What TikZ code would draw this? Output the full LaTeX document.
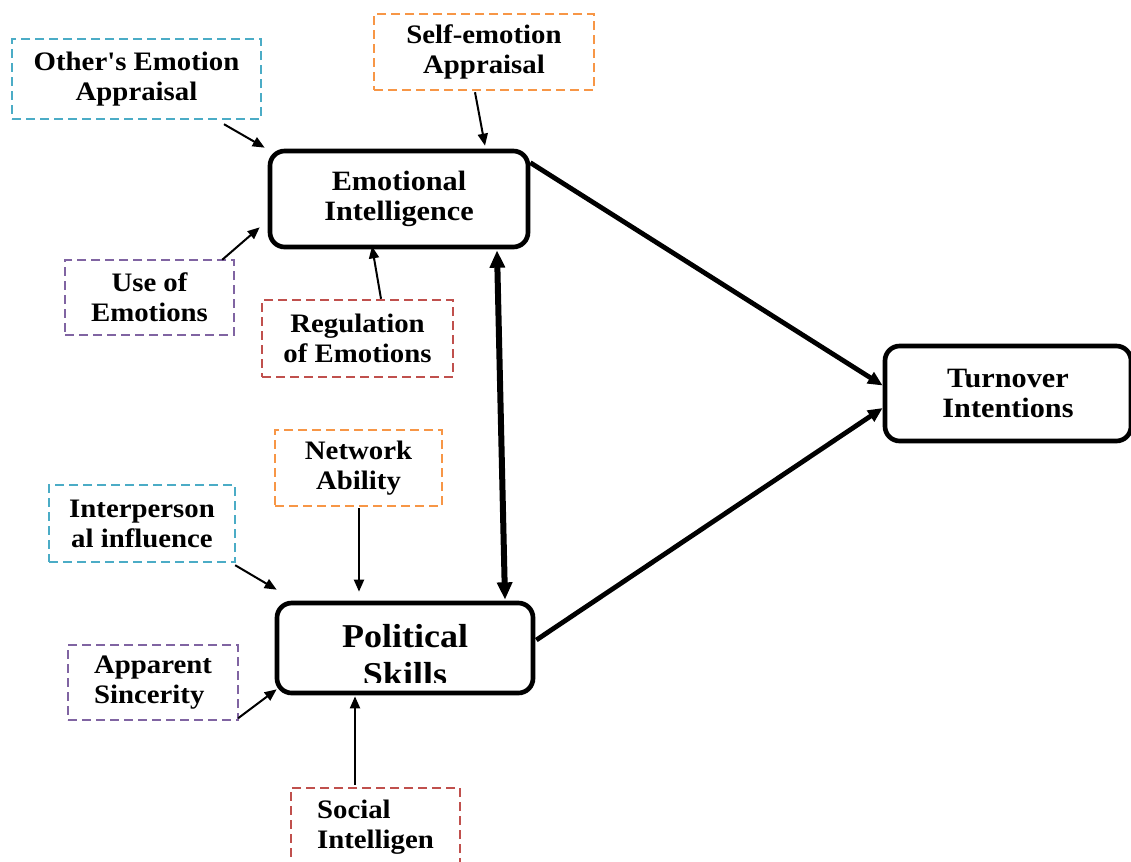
\documentclass[tikz,border=0pt]{standalone}
\usepackage{fontspec}
\setmainfont{Liberation Serif}
\newfontfamily\df[FakeStretch=1.08]{Liberation Serif}
\usetikzlibrary{arrows.meta,calc}
\definecolor{cyanb}{RGB}{75,172,198}
\definecolor{orangeb}{RGB}{247,150,70}
\definecolor{purpleb}{RGB}{128,100,162}
\definecolor{redb}{RGB}{192,80,77}
\begin{document}
\begin{tikzpicture}[x=0.75pt,y=-0.75pt,
  sz/.style 2 args={minimum width=#1*0.75pt,minimum height=#2*0.75pt},
  dbox/.style={draw=#1,line width=1.8pt,dash pattern=on 6.5pt off 4pt,inner sep=0pt,align=center,
    font=\df\bfseries\fontsize{20}{22.5}\selectfont},
  mbox/.style={draw,line width=3.5pt,rounded corners=11pt,inner sep=0pt,align=center,
    font=\df\bfseries\fontsize{21}{22.5}\selectfont},
  tarr/.style={line width=1.5pt,-{Triangle[length=9pt,width=7.5pt]}},
  karr/.style={line width=3.6pt,-{Triangle[length=11pt,width=9.5pt]}},
  barr/.style={line width=4.5pt,{Triangle[length=13pt,width=11pt]}-{Triangle[length=13pt,width=11pt]}},
]
\useasboundingbox (0,0) rectangle (1131,861);
\fill[white] (0,0) rectangle (1131,861);

% main boxes
\node[mbox,sz={258}{96}] (EI) at (399,199) {Emotional\\Intelligence};
\node[mbox,sz={246}{95}] (TI) at (1008,393.5) {Turnover\\Intentions};
\node[mbox,sz={256}{90}] (PS) at (405,648) {};
\node[font=\df\bfseries\fontsize{25}{28}\selectfont,anchor=base,inner sep=0pt] (PSa) at ($(PS.center)+(0,-1)$) {Political};
\begin{scope}
  \clip ($(PS.north west)$) rectangle ($(PS.south east)+(0,-13)$);
  \node[font=\df\bfseries\fontsize{25}{28}\selectfont,anchor=base,inner sep=0pt] (PSb) at ($(PS.center)+(0,37)$) {Skills};
\end{scope}

% dashed boxes
\node[dbox=cyanb,sz={249}{80}] (OEA) at (136.5,79) {Other's Emotion\\Appraisal};
\node[dbox=orangeb,sz={220}{76}] (SEA) at (484,52) {Self-emotion\\Appraisal};
\node[dbox=purpleb,sz={169}{75}] (UOE) at (149.5,297.5) {Use of\\Emotions};
\node[dbox=redb,sz={191}{77}] (ROE) at (357.5,338.5) {Regulation\\of Emotions};
\node[dbox=orangeb,sz={167}{76}] (NA) at (358.5,468) {Network\\Ability};
\node[dbox=cyanb,sz={186}{77}] (IPI) at (142,523.5) {Interperson\\al influence};
\node[dbox=purpleb,sz={170}{75},align=left] (AS) at (153,682.5) {Apparent\\Sincerity};
\node[dbox=redb,sz={169}{78},align=left] (SI) at (375.5,827) {Social\\Intelligen};

% connectors to Emotional Intelligence
\draw[tarr] ($(OEA.south)+(87.5,4)$) -- ($(EI.north west)+(-3,-1)$);
\draw[tarr] ($(SEA.south)+(-9,1)$) -- ($(EI.north)+(86,-3)$);
\draw[tarr] ($(UOE.north east)+(-13,1)$) -- ($(EI.south west)+(-8,-22)$);
\draw[tarr] ($(ROE.north)+(23.5,0)$) -- ($(EI.south)+(-27,-3)$);

% connectors to Political Skills
\draw[tarr] ($(NA.south)+(0.5,1)$) -- ($(PS.north)+(-46,-9)$);
\draw[tarr] ($(IPI.south east)+(-1,2)$) -- ($(PS.north west)+(2,-11)$);
\draw[tarr] ($(AS.south east)+(-1,-3)$) -- ($(PS.south west)+(2,-6)$);
\draw[tarr] ($(SI.north)+(-20.5,-2)$) -- ($(PS.south)+(-50,1)$);

% main connectors
\draw[barr] ($(EI.south)+(98,1)$) -- ($(PS.north)+(100,-1)$);
\draw[karr] ($(EI.north east)+(0,14)$) -- ($(TI.west)+(0,-8)$);
\draw[karr] ($(PS.east)+(1,-8)$) -- ($(TI.west)+(0,14.5)$);
\end{tikzpicture}
\end{document}
